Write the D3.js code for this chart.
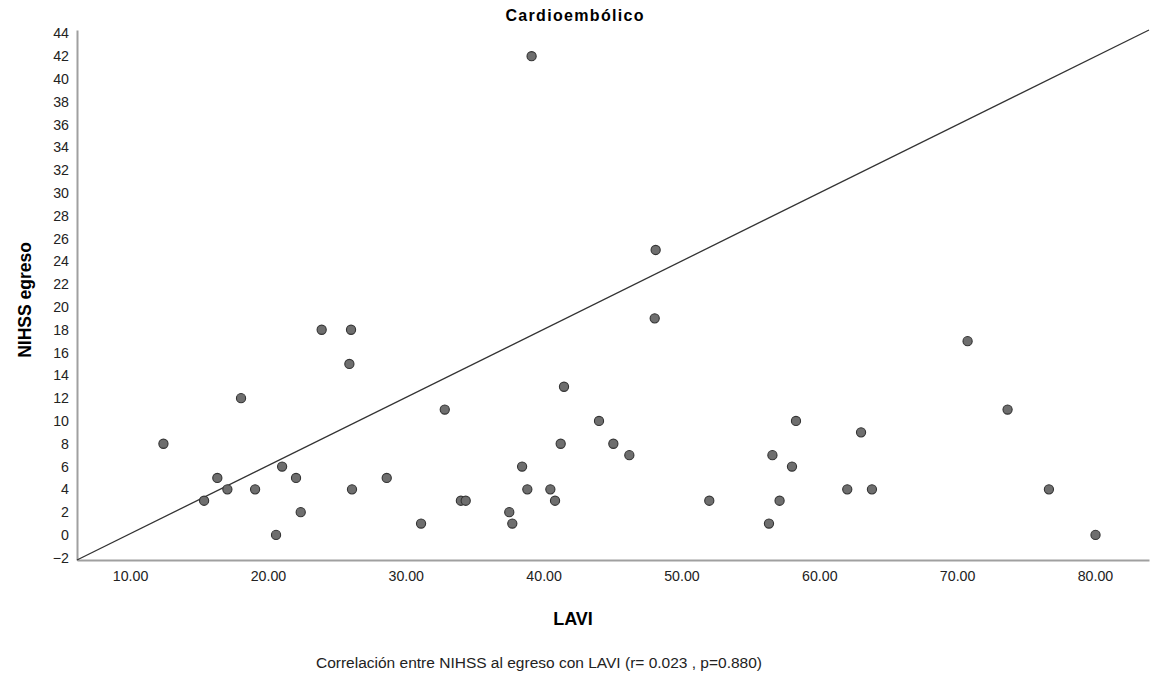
<!DOCTYPE html>
<html>
<head>
<meta charset="utf-8">
<script src="https://cdn.jsdelivr.net/npm/d3@7"></script>
<style>
  body { margin: 0; background: #fff; }
  svg { display: block; font-family: Arial, "Liberation Sans", sans-serif; }
</style>
</head>
<body>
<svg id="chart" width="1152" height="676"></svg>
<script>
const title = "Cardioembólico";
const xTitle = "LAVI";
const yTitle = "NIHSS egreso";
const footnote = "Correlación entre NIHSS al egreso con LAVI (r= 0.023 , p=0.880)";

const xTicks = [10, 20, 30, 40, 50, 60, 70, 80];
const yTicks = [-2, 0, 2, 4, 6, 8, 10, 12, 14, 16, 18, 20, 22, 24, 26, 28, 30, 32, 34, 36, 38, 40, 42, 44];

const lavi = [12.42, 15.37, 16.33, 17.06, 18.05, 19.07, 20.59, 21.03, 22.04, 22.38,
  23.90, 25.91, 26.03, 26.10, 28.62, 31.11, 32.83, 34.00, 34.35, 37.51,
  37.73, 38.44, 38.82, 39.13, 40.49, 40.83, 41.24, 41.48, 44.02, 45.06,
  46.22, 48.13, 48.06, 52.02, 56.35, 56.60, 57.12, 58.02, 58.31, 62.03,
  63.03, 63.82, 70.76, 73.66, 76.66, 80.04];
const nihss = [8, 3, 5, 4, 12, 4, 0, 6, 5, 2,
  18, 15, 18, 4, 5, 1, 11, 3, 3, 2,
  1, 6, 4, 42, 4, 3, 8, 13, 10, 8,
  7, 25, 19, 3, 1, 7, 3, 6, 10, 4,
  9, 4, 17, 11, 4, 0];

const xDomain = [6.15, 83.92];
const yDomain = [-2.2, 44.3];

const svg = d3.select("#chart");
const mLeft = 77, mRight = 1149, mTop = 30, mBottom = 560;

const x = d3.scaleLinear().domain(xDomain).range([mLeft, mRight]);
const y = d3.scaleLinear().domain(yDomain).range([mBottom, mTop]);

// title
svg.append("text")
  .attr("x", 574.5).attr("y", 21)
  .attr("text-anchor", "middle")
  .attr("font-weight", "bold").attr("font-size", 16)
  .attr("textLength", 138).attr("lengthAdjust", "spacing")
  .attr("fill", "#000")
  .text(title);

// axes
const xAxis = svg.append("g")
  .attr("transform", `translate(0,${mBottom})`)
  .call(d3.axisBottom(x).tickValues(xTicks).tickFormat(d3.format(".2f")).tickSize(0).tickPadding(11));
xAxis.select(".domain").attr("stroke", "#a0a0a0").attr("stroke-width", 2);
xAxis.selectAll("text").attr("font-size", 14.2).attr("fill", "#222").attr("font-family", "Arial, 'Liberation Sans', sans-serif");

const yAxis = svg.append("g")
  .attr("transform", `translate(${mLeft},0)`)
  .call(d3.axisLeft(y).tickValues(yTicks).tickFormat(d3.format("d")).tickSize(0).tickPadding(8));
yAxis.select(".domain").attr("stroke", "#a0a0a0").attr("stroke-width", 2);
yAxis.selectAll("text").attr("font-size", 14.2).attr("fill", "#222").attr("font-family", "Arial, 'Liberation Sans', sans-serif");

// diagonal reference line
svg.append("line")
  .attr("x1", x(xDomain[0])).attr("y1", y(yDomain[0]))
  .attr("x2", x(xDomain[1])).attr("y2", y(yDomain[1]))
  .attr("stroke", "#333").attr("stroke-width", 1.3);

// points
const pts = lavi.map((v, i) => ({ x: v, y: nihss[i] }));
svg.append("g").selectAll("circle").data(pts).join("circle")
  .attr("cx", d => x(d.x)).attr("cy", d => y(d.y))
  .attr("r", 4.6)
  .attr("fill", "#6e6e6e")
  .attr("stroke", "#333").attr("stroke-width", 1.1);

// axis titles
svg.append("text")
  .attr("x", 573).attr("y", 625)
  .attr("text-anchor", "middle")
  .attr("font-weight", "bold").attr("font-size", 18)
  .attr("fill", "#000")
  .text(xTitle);

svg.append("text")
  .attr("transform", "translate(31,300) rotate(-90)")
  .attr("text-anchor", "middle")
  .attr("font-weight", "bold").attr("font-size", 17.5)
  .attr("fill", "#000")
  .text(yTitle);

svg.append("text")
  .attr("x", 539).attr("y", 668)
  .attr("text-anchor", "middle")
  .attr("font-size", 15.5)
  .attr("fill", "#222")
  .text(footnote);
</script>
</body>
</html>
